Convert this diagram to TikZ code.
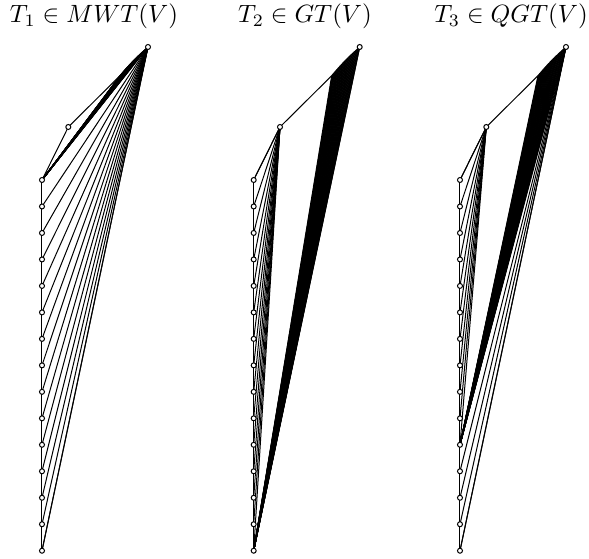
\documentclass[tikz,border=0pt]{standalone}
\begin{document}
\begin{tikzpicture}[x=0.4pt,y=-0.4pt]
\tikzset{
  edge/.style={line width=0.4pt},
  vtx/.style={circle,draw,fill=white,inner sep=0pt,minimum size=2pt,line width=0.4pt},
  ttl/.style={anchor=base,inner sep=0pt}
}
\useasboundingbox (0,0) rectangle (589,559);
\newcommand\mkpoints[2]{%
  \foreach \i in {0,...,14} {\coordinate (#1c\i) at (#2, 180+26.48*\i);}
  \coordinate (#1q) at (#2+26.3, 127);
  \foreach \j in {0,...,39} {
    \pgfmathsetmacro\myT{\j/39}
    \pgfmathsetmacro\myB{0.6*sin(180*\myT)}
    \coordinate (#1k\j) at (#2+78+28*\myT-\myB, 75.7-28.7*\myT-\myB);
  }
}
\newcommand\hull[1]{%
  \foreach \i [evaluate=\i as \n using int(\i+1)] in {0,...,13} {\draw[edge] (#1c\i) -- (#1c\n);}
  \foreach \j [evaluate=\j as \n using int(\j+1)] in {0,...,38} {\draw[edge] (#1k\j) -- (#1k\n);}
  \draw[edge] (#1c0) -- (#1q) -- (#1k0);
  \draw[edge] (#1c14) -- (#1k39);
}
\newcommand\vtxs[1]{%
  \foreach \i in {0,...,14} {\node[vtx] (#1v\i) at (#1c\i) {};}
  \node[vtx] (#1vq) at (#1q) {};
  \node[vtx] (#1vp) at (#1k39) {};
}
\mkpoints{A}{42}
\mkpoints{B}{253.7}
\mkpoints{C}{460}
% T1 edges: c0 fans to the whole cluster, the rest of the column fans to the apex
\foreach \j in {0,...,39} {\draw[edge] (Ac0) -- (Ak\j);}
\foreach \i in {1,...,14} {\draw[edge] (Ac\i) -- (Ak39);}
\hull{A}
% T2 edges
\foreach \i in {0,...,14} {\draw[edge] (Bq) -- (Bc\i);}
\foreach \j in {0,...,39} {\draw[edge] (Bc14) -- (Bk\j);}
\hull{B}
% T3 edges
\foreach \i in {0,...,10} {\draw[edge] (Cq) -- (Cc\i);}
\foreach \j in {0,...,39} {\draw[edge] (Cc10) -- (Ck\j);}
\foreach \i in {11,...,14} {\draw[edge] (Cc\i) -- (Ck39);}
\hull{C}
\vtxs{A}
\vtxs{B}
\vtxs{C}
\node[ttl] (t1) at (94,23) {$T_1\in MWT(V)$};
\node[ttl] (t2) at (305,23) {$T_2\in GT(V)$};
\node[ttl] (t3) at (511,23) {$T_3\in QGT(V)$};
\end{tikzpicture}
\end{document}
